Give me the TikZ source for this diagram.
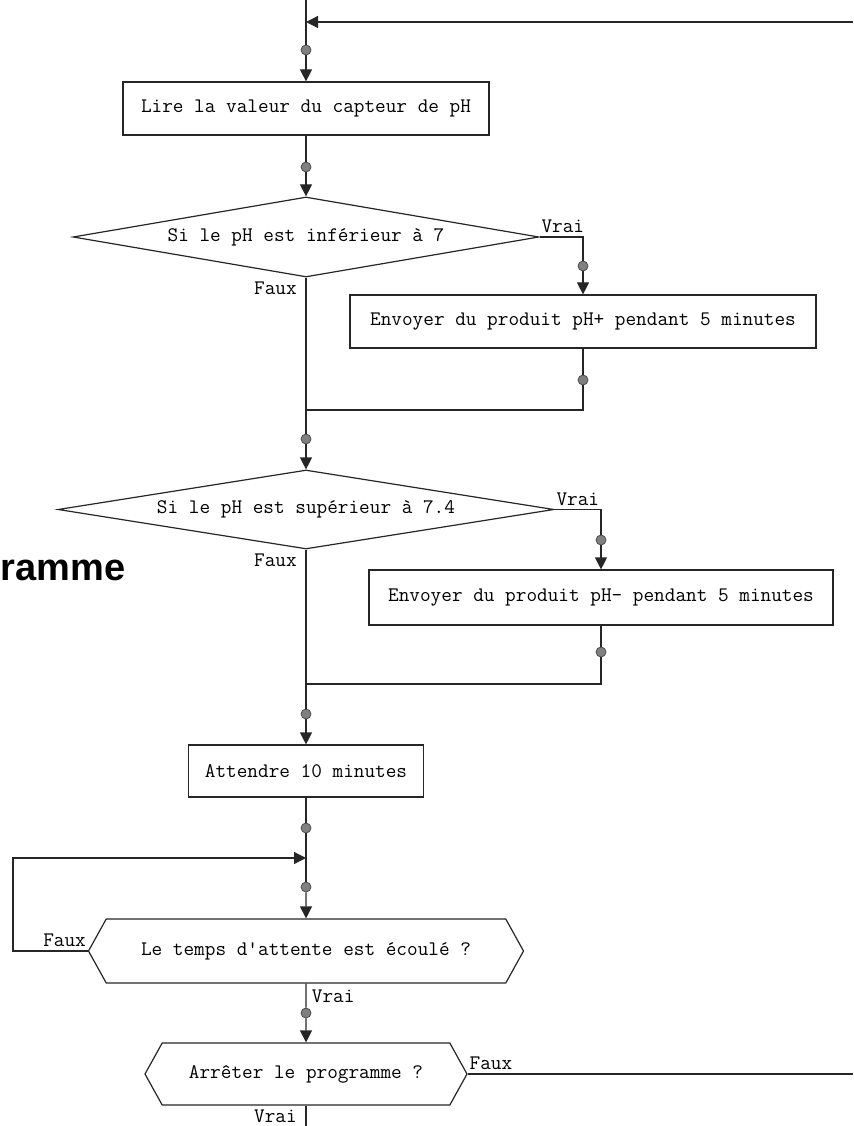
\documentclass[tikz,border=0pt]{standalone}
\usepackage{fontspec}
\newfontfamily\titrefont{Liberation Sans}
\usepackage{tikz}
\usetikzlibrary{shapes.geometric,shapes.symbols,arrows.meta}
\tikzset{bloc/.style={draw,rectangle,fill=white,inner sep=0pt},
	test/.style={draw,diamond,fill=white,inner sep=0pt},
	choix/.style={draw,signal,signal to=west and east,signal pointer angle=122,fill=white,inner sep=0pt},
	point/.style={circle,draw=black!70,fill=black!50,inner sep=0pt,minimum size=7.5pt,line width=0.6pt},
	lbl/.style={inner sep=2.5pt},
	fleche/.style={-{Triangle[length=9pt,width=9pt]}}}

\begin{document}
\begin{tikzpicture}
	[x=0.75pt,y=-0.75pt,line width=0.9pt,color=black!85,
	every node/.style={text=black,font=\ttfamily\fontsize{15.5}{18}\selectfont}]
	\useasboundingbox (0,0) rectangle (853,1126);
	% titre coupe a gauche
	\node[anchor=base west,inner sep=0pt,font=\titrefont\bfseries\fontsize{28.5}{30}\selectfont] (titre) at (0,580) {ramme};
	% blocs
	\node[bloc,minimum width=274.5pt,minimum height=39.75pt] (lire) at (306,108.5) {Lire la valeur du capteur de pH};
	\node[test,minimum width=349.5pt,minimum height=60pt,aspect=5.8] (inf) at (306,237) {Si le pH est inférieur à 7};
	\node[bloc,minimum width=349.5pt,minimum height=39.75pt] (plus) at (583,321.5) {Envoyer du produit pH+ pendant 5 minutes};
	\node[test,minimum width=372pt,minimum height=59.25pt,aspect=6.3] (sup) at (306,509.5) {Si le pH est supérieur à 7.4};
	\node[bloc,minimum width=348pt,minimum height=41.25pt] (moins) at (601,597.5) {Envoyer du produit pH- pendant 5 minutes};
	\node[bloc,minimum width=176.25pt,minimum height=39pt] (attente) at (306,771) {Attendre 10 minutes};
	\node[choix,minimum width=326.25pt,minimum height=48pt] (ecoule) at (306,951) {Le temps d'attente est écoulé ?};
	\node[choix,minimum width=241.5pt,minimum height=46.5pt] (arret) at (306,1074) {Arrêter le programme ?};
	% points
	\node[point] (p1) at (306,50) {};
	\node[point] (p2) at (306,167) {};
	\node[point] (p3) at (583,266) {};
	\node[point] (p4) at (583,380) {};
	\node[point] (p5) at (306,439) {};
	\node[point] (p6) at (601,540) {};
	\node[point] (p7) at (601,652) {};
	\node[point] (p8) at (306,714) {};
	\node[point] (p9) at (306,828) {};
	\node[point] (p10) at (306,887) {};
	\node[point] (p11) at (306,1013) {};
	\coordinate (haut) at (306,0);
	\coordinate (retour) at (853,22);
	\coordinate (retourfin) at (306,22);
	\coordinate (j1) at (306,410);
	\coordinate (j2) at (306,684);
	\coordinate (j3) at (306,858);
	\coordinate (boucle) at (13,858);
	\coordinate (sortie) at (853,1074);
	\coordinate (bas) at (306,1126);
	% liaisons
	\draw (haut) -- (p1);
	\draw[fleche] (retour) -- (retourfin);
	\draw[fleche] (p1) -- (lire);
	\draw (lire) -- (p2);
	\draw[fleche] (p2) -- (inf);
	\draw (inf.east) -| (p3);
	\draw[fleche] (p3) -- (plus);
	\draw (plus) -- (p4);
	\draw (p4) |- (j1);
	\draw (inf) -- (j1);
	\draw (j1) -- (p5);
	\draw[fleche] (p5) -- (sup);
	\draw (sup.east) -| (p6);
	\draw[fleche] (p6) -- (moins);
	\draw (moins) -- (p7);
	\draw (p7) |- (j2);
	\draw (sup) -- (j2);
	\draw (j2) -- (p8);
	\draw[fleche] (p8) -- (attente);
	\draw (attente) -- (p9);
	\draw (p9) -- (j3);
	\draw (j3) -- (p10);
	\draw[fleche] (p10) -- (ecoule);
	\draw[fleche] (ecoule.west) -| (boucle) -- (j3);
	\draw (ecoule) -- (p11);
	\draw[fleche] (p11) -- (arret);
	\draw (arret.east) -- (sortie);
	\draw (arret) -- (bas);
	% etiquettes
	\node[lbl,anchor=south west] (vrai1) at ([xshift=-1.5pt]inf.east) {Vrai};
	\node[lbl,anchor=north east] (faux1) at ([xshift=-4pt,yshift=-0.5pt]inf.south) {Faux};
	\node[lbl,anchor=south west] (vrai2) at ([xshift=-1.5pt]sup.east) {Vrai};
	\node[lbl,anchor=north east] (faux2) at ([xshift=-4pt,yshift=-0.5pt]sup.south) {Faux};
	\node[lbl,anchor=south east] (faux3) at ([xshift=1.5pt]ecoule.west) {Faux};
	\node[lbl,anchor=north west] (vrai3) at ([xshift=1.5pt,yshift=-1.5pt]ecoule.south) {Vrai};
	\node[lbl,anchor=south west] (faux4) at ([xshift=-1.5pt]arret.east) {Faux};
	\node[lbl,anchor=north east] (vrai4) at ([xshift=-4pt,yshift=-0.5pt]arret.south) {Vrai};
\end{tikzpicture}
\end{document}
